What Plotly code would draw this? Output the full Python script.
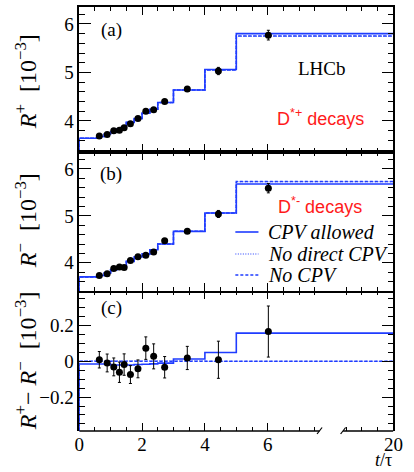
import plotly.graph_objects as go

# ---------------- data ----------------
# bin edges (real t/tau) of the fitted step functions
t_edges = [0, 0.6, 0.8, 1.0, 1.2, 1.35, 1.5, 1.75, 2.0, 2.25, 2.5, 3.0, 4.0, 5.0, 20]

# panel (a): R+ [1e-3]
a_cpv = [3.645, 3.68, 3.73, 3.78, 3.83, 3.88, 3.97, 4.05, 4.16, 4.24, 4.38, 4.64, 5.06, 5.80]
a_nodir = [3.645, 3.68, 3.73, 3.78, 3.83, 3.88, 3.97, 4.05, 4.16, 4.24, 4.38, 4.64, 5.05, 5.75]
a_nocpv = [3.645, 3.68, 3.73, 3.78, 3.83, 3.88, 3.97, 4.05, 4.16, 4.24, 4.38, 4.64, 5.05, 5.75]

# panel (b): R- [1e-3]
b_cpv = [3.70, 3.73, 3.78, 3.85, 3.90, 3.92, 4.03, 4.13, 4.19, 4.28, 4.40, 4.67, 5.06, 5.68]
b_nodir = [3.70, 3.73, 3.78, 3.85, 3.90, 3.92, 4.03, 4.13, 4.19, 4.28, 4.40, 4.67, 5.06, 5.73]
b_nocpv = [3.70, 3.73, 3.78, 3.85, 3.90, 3.92, 4.03, 4.13, 4.19, 4.28, 4.40, 4.67, 5.06, 5.73]

# panel (c): R+ - R- [1e-3]
c_cpv = [-0.015, -0.015, -0.015, -0.02, -0.02, -0.02, -0.02, -0.018, -0.016, -0.014, -0.01, 0.013, 0.05, 0.158]
c_nodir = [0.002, 0.002, 0.002, 0.002, 0.002, 0.002, 0.002, 0.002, 0.002, 0.002, 0.002, 0.002, 0.0, 0.0]
c_nocpv = [0.0] * 14

# data points
t_pts = [0.64, 0.89, 1.10, 1.28, 1.43, 1.63, 1.87, 2.12, 2.37, 2.72, 3.44, 4.43, 6.02]
rp = [3.69, 3.72, 3.80, 3.81, 3.86, 3.94, 4.05, 4.20, 4.23, 4.40, 4.66, 5.03, 5.77]
rp_err = [0.03, 0.03, 0.03, 0.035, 0.035, 0.035, 0.035, 0.04, 0.045, 0.04, 0.045, 0.075, 0.1]
rm = [3.73, 3.77, 3.88, 3.91, 3.90, 4.05, 4.13, 4.16, 4.23, 4.47, 4.67, 5.04, 5.59]
rm_err = [0.03, 0.03, 0.03, 0.035, 0.035, 0.035, 0.035, 0.04, 0.045, 0.04, 0.045, 0.075, 0.1]
rd = [0.009, -0.009, -0.031, -0.061, -0.018, -0.074, -0.042, 0.074, 0.028, -0.033, 0.019, 0.009, 0.167]
rd_err = [0.046, 0.05, 0.05, 0.057, 0.06, 0.05, 0.05, 0.063, 0.07, 0.06, 0.065, 0.104, 0.143]

# axis ticks (real t values)
x_major = [0, 2, 4, 6, 20]
x_major_text = ["0", "2", "4", "6", "20"]
x_minor = [0.5, 1, 1.5, 2.5, 3, 3.5, 4.5, 5, 5.5, 6.5, 7, 7.5, 12.5, 15, 17.5]

legend_names = ["CPV allowed", "No direct CPV", "No CPV"]

# ---------------- broken x-axis mapping ----------------
BREAK_AT = 7.5
T_END = 20.0
DISP_END = 10.0


def disp(t):
    if t <= BREAK_AT:
        return t
    return BREAK_AT + (t - BREAK_AT) * (DISP_END - BREAK_AT) / (T_END - BREAK_AT)


GAP = (7.65, 8.4)  # displayed gap in the bottom axis line

BLUE = "#1f3cff"
SERIF = "Liberation Serif"
W, H = 414, 472
NB = "\u00a0"

STYLES = {"CPV allowed": ("solid", 1.6),
          "No direct CPV": ("1px,1.5px", 1.2),
          "No CPV": ("3px,2px", 1.5)}

ranges = {"y": [3.36, 6.35], "y2": [3.40, 6.36], "y3": [-0.39, 0.394]}
domains = {"y": [1 - 152 / H, 1 - 7 / H], "y2": [1 - 291 / H, 1 - 152 / H], "y3": [1 - 431 / H, 1 - 291 / H]}

fig = go.Figure()


def add_steps(levels, xa, ya, ymin, style):
    dash, width = STYLES[style]
    xs = [0.0] + [disp(e) for e in t_edges]
    ys = [ymin] + list(levels) + [levels[-1]]
    fig.add_trace(go.Scatter(x=xs, y=ys, mode="lines", line_shape="hv",
                             line=dict(color=BLUE, width=width, dash=dash),
                             xaxis=xa, yaxis=ya, name=style, showlegend=False,
                             hoverinfo="skip"))


def add_points(vals, errs, xa, ya):
    fig.add_trace(go.Scatter(x=[disp(t) for t in t_pts], y=vals, mode="markers",
                             marker=dict(color="black", size=7),
                             error_y=dict(type="data", array=errs, color="black",
                                          thickness=1, width=1.5),
                             xaxis=xa, yaxis=ya, showlegend=False))


panels = [("x", "y", a_cpv, a_nodir, a_nocpv, rp, rp_err),
          ("x2", "y2", b_cpv, b_nodir, b_nocpv, rm, rm_err),
          ("x3", "y3", c_cpv, c_nodir, c_nocpv, rd, rd_err)]

for xa, ya, cpv, nodir, nocpv, pts, errs in panels:
    ymin = ranges[ya][0]
    add_steps(nodir, xa, ya, ymin, "No direct CPV")
    add_steps(nocpv, xa, ya, ymin, "No CPV")
    add_steps(cpv, xa, ya, ymin, "CPV allowed")
    add_points(pts, errs, xa, ya)

xdom = [77 / W, 403 / W]
xcommon = dict(range=[0, DISP_END], domain=xdom, ticks="inside", ticklen=8, tickwidth=1,
               tickcolor="black", tickmode="array", tickvals=[disp(v) for v in x_major],
               ticktext=x_major_text, showgrid=False, zeroline=False,
               minor=dict(ticks="inside", ticklen=4, tickwidth=1, tickcolor="black",
                          tickmode="array", tickvals=[disp(v) for v in x_minor]),
               tickfont=dict(family=SERIF, size=19, color="black"))

fig.update_layout(
    xaxis=dict(xcommon, anchor="y", showline=True, linecolor="black", linewidth=1.5,
               mirror="ticks", showticklabels=False),
    xaxis2=dict(xcommon, anchor="y2", showline=True, linecolor="black", linewidth=1.5,
                mirror="ticks", showticklabels=False),
    xaxis3=dict(xcommon, anchor="y3", showline=False, mirror="ticks", showticklabels=True),
)


def ycommon(ya, major, minor, anchor):
    return dict(range=ranges[ya], domain=domains[ya], anchor=anchor, ticks="inside", ticklen=12,
                tickwidth=1, tickcolor="black", showline=True, linecolor="black",
                linewidth=1.5, mirror="ticks", showgrid=False, zeroline=False,
                tickmode="linear", tick0=0, dtick=major,
                minor=dict(ticks="inside", ticklen=6, tickwidth=1, tickcolor="black",
                           tickmode="linear", dtick=minor, tick0=0),
                tickfont=dict(family=SERIF, size=19, color="black"))


fig.update_layout(
    yaxis=ycommon("y", 1, 0.2, "x"),
    yaxis2=ycommon("y2", 1, 0.2, "x2"),
    yaxis3=ycommon("y3", 0.2, 0.05, "x3"),
)

# bottom axis line with a break
ybot = domains["y3"][0]
shapes = [
    dict(type="line", xref="x3", yref="paper", x0=0, x1=GAP[0], y0=ybot, y1=ybot,
         line=dict(color="black", width=1.5)),
    dict(type="line", xref="x3", yref="paper", x0=GAP[1], x1=DISP_END, y0=ybot, y1=ybot,
         line=dict(color="black", width=1.5)),
]
for gx in GAP:
    shapes.append(dict(type="line", xref="x3", yref="paper", x0=gx - 0.08, x1=gx + 0.08,
                       y0=ybot - 3 / H, y1=ybot + 3.5 / H, line=dict(color="black", width=1.2)))

# hand-made legend (panel b)
LEG_X0, LEG_X1, LEG_TX = 239, 263, 271
LEG_Y = [232, 254, 275]
for name, ly in zip(legend_names, LEG_Y):
    dash, width = STYLES[name]
    shapes.append(dict(type="line", xref="paper", yref="paper", x0=LEG_X0 / W, x1=LEG_X1 / W,
                       y0=1 - ly / H, y1=1 - ly / H, line=dict(color=BLUE, width=width, dash=dash)))
fig.update_layout(shapes=shapes)


def ann(text, px, py, size=19, family=SERIF, color="black", angle=0, xanchor="center",
        yanchor="middle"):
    fig.add_annotation(text=text, x=px / W, y=1 - py / H, xref="paper", yref="paper",
                       showarrow=False, textangle=angle, xanchor=xanchor, yanchor=yanchor,
                       font=dict(family=family, size=size, color=color))


for name, ly in zip(legend_names, LEG_Y):
    ann("<i>%s</i>" % name, LEG_TX, ly, size=20, xanchor="left")

ann("(a)", 110, 30)
ann("(b)", 110, 174)
ann("(c)", 110, 308)
ann("LHCb", 329, 68)
ann("D<sup>*+</sup> decays", 327, 117, size=18, family="Liberation Sans", color="#ff1a1a")
ann("D<sup>*-</sup> decays", 327, 205, size=18, family="Liberation Sans", color="#ff1a1a")
ann("<i>R</i><sup>+</sup>" + NB * 2 + "[10<sup>\u22123</sup>]", 22, 82, size=24, angle=-90)
ann("<i>R</i><sup>\u2212</sup>" + NB * 2 + "[10<sup>\u22123</sup>]", 22, 221, size=24, angle=-90)
ann("<i>R</i><sup>+</sup>\u2212" + NB + "<i>R</i><sup>\u2212</sup>" + NB * 2 + "[10<sup>\u22123</sup>]",
    22, 361, size=24, angle=-90)
ann("<i>t</i>/\u03c4", 404, 472, size=18, xanchor="right", yanchor="bottom")

fig.update_layout(
    width=W, height=H, margin=dict(l=0, r=0, t=0, b=0),
    paper_bgcolor="white", plot_bgcolor="white",
    showlegend=False,
)

fig.write_html("out.html")
